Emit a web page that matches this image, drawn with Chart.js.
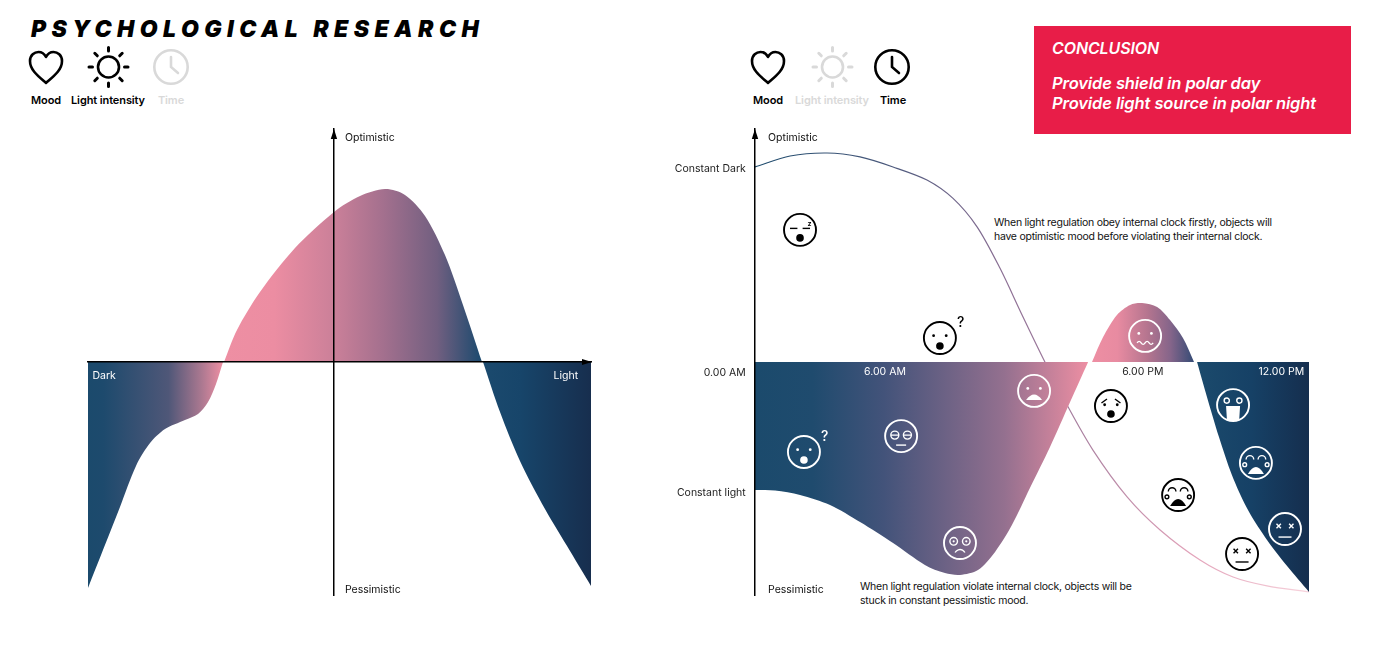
<!DOCTYPE html>
<html>
<head>
<meta charset="utf-8">
<title>Psychological research</title>
<script src="https://cdn.jsdelivr.net/npm/chart.js@4/dist/chart.umd.js"></script>
<style>
  html, body { margin: 0; background: #fff; }
  body { width: 1400px; height: 650px; position: relative; overflow: hidden; font-family: Inter, sans-serif; color: #000; }
  canvas { position: absolute; top: 110px; }
  #leftChart { left: 0; }
  #rightChart { left: 660px; }
  .txt { position: absolute; white-space: nowrap; }
  h1 { position: absolute; left: 31px; top: 15px; margin: 0; font-size: 23px; line-height: 28px; font-weight: 900; font-style: italic; letter-spacing: 5.45px; white-space: nowrap; }
  .icon { position: absolute; top: 45px; }
  .leg { top: 94px; font-size: 11px; line-height: 13px; font-weight: 600; transform: translateX(-50%); letter-spacing: -0.1px; }
  .off { color: #d9d9d9; }
  .note { font-size: 10.5px; line-height: 14px; letter-spacing: -0.26px; color: #111; }
  #box { position: absolute; left: 1034px; top: 26px; width: 317px; height: 108px; background: #e81d48; color: #fff; font-style: italic; font-weight: 600; }
  #box div { position: absolute; left: 18px; white-space: nowrap; font-size: 16px; line-height: 20px; letter-spacing: -0.1px; }
</style>
</head>
<body>
<h1>PSYCHOLOGICAL RESEARCH</h1>

<svg class="icon" style="left:24px" width="44" height="44" viewBox="0 0 44 44" fill="none" stroke="#000" stroke-width="2.6" stroke-linejoin="round"><path d="M22 38 C14 31 6 25 6 16 C6 10 10.500 7 14.500 7 C18 7 20.500 9 22 12 C23.500 9 26 7 29.500 7 C33.500 7 38 10 38 16 C38 25 30 31 22 38 Z"/></svg>
<svg class="icon" style="left:86px" width="44" height="44" viewBox="0 0 44 44" fill="none" stroke="#000" stroke-width="2.6" stroke-linecap="round"><circle cx="22.500" cy="22" r="10.500"/><path stroke-width="3" d="M22.500 2.500v3.500M22.500 38v3.500M3 22h3.500M38.500 22h3.500M8.800 8.300l2.500 2.500M33.700 33.200l2.500 2.500M36.200 8.300l-2.500 2.500M11.300 33.200l-2.500 2.500"/></svg>
<svg class="icon" style="left:149px" width="44" height="44" viewBox="0 0 44 44" fill="none" stroke="#d9d9d9" stroke-width="2.600" stroke-linecap="round"><circle cx="22" cy="22" r="16.700"/><path d="M22 12v10l7 6"/></svg>

<div class="txt leg" style="left:46px">Mood</div>
<div class="txt leg" style="left:108px">Light intensity</div>
<div class="txt leg off" style="left:171px">Time</div>

<svg class="icon" style="left:746px" width="44" height="44" viewBox="0 0 44 44" fill="none" stroke="#000" stroke-width="2.6" stroke-linejoin="round"><path d="M22 38 C14 31 6 25 6 16 C6 10 10.500 7 14.500 7 C18 7 20.500 9 22 12 C23.500 9 26 7 29.500 7 C33.500 7 38 10 38 16 C38 25 30 31 22 38 Z"/></svg>
<svg class="icon" style="left:810px" width="44" height="44" viewBox="0 0 44 44" fill="none" stroke="#d9d9d9" stroke-width="2.6" stroke-linecap="round"><circle cx="22.500" cy="22" r="10.500"/><path stroke-width="3" d="M22.500 2.500v3.500M22.500 38v3.500M3 22h3.500M38.500 22h3.500M8.800 8.300l2.500 2.500M33.700 33.200l2.500 2.500M36.200 8.300l-2.500 2.500M11.300 33.200l-2.500 2.500"/></svg>
<svg class="icon" style="left:870px" width="44" height="44" viewBox="0 0 44 44" fill="none" stroke="#000" stroke-width="2.600" stroke-linecap="round"><circle cx="22" cy="22" r="16.700"/><path d="M22 12v10l7 6"/></svg>

<div class="txt leg" style="left:768px">Mood</div>
<div class="txt leg off" style="left:832px">Light intensity</div>
<div class="txt leg" style="left:893px">Time</div>

<div id="box">
  <div style="top:12px;font-size:16px">CONCLUSION</div>
  <div style="top:47px;font-size:16.5px">Provide shield in polar day</div>
  <div style="top:67px;font-size:16.5px">Provide light source in polar night</div>
</div>

<div class="txt note" style="left:994px;top:216px">When light regulation obey internal clock firstly, objects will<br>have optimistic mood before violating their internal clock.</div>
<div class="txt note" style="left:860px;top:580px">When light regulation violate internal clock, objects will be<br>stuck in constant pessimistic mood.</div>

<canvas id="leftChart" width="680" height="510"></canvas>
<canvas id="rightChart" width="740" height="510"></canvas>

<script>
// Izquierda: mood against light intensity (0-100)
const darkLight = [0, 6.36, 9.54, 12.33, 15.31, 19.28, 21.87, 23.86, 25.45, 26.84];
const darkMood = [-97, -62.2, -44.6, -34.8, -28.8, -24.9, -22.3, -17.2, -9.4, 0];
const midLight = [27.04, 29.62, 34.19, 41.15, 48.91, 54.08, 59.05, 63.02, 67, 70.97, 74.55, 78.33];
const midMood = [0, 13.7, 30, 48.9, 64.4, 71.2, 74.2, 71.7, 62.7, 45.9, 24.5, 0];
const brightLight = [78.53, 81.91, 85.88, 90.85, 95.83, 100];
const brightMood = [0, -21.5, -42.5, -63.1, -81.1, -96.1];
const leftXTicks = [3.2, 95];
const leftXLabels = ["Dark", "Light"];

// Derecha: mood against time (0-24 h)
const lobeHours = [0, 0.87, 1.95, 3.25, 4.55, 5.98, 7.36, 8.23, 8.88, 9.66, 10.4, 11.13, 11.91, 12.78, 13.65, 14.43];
const lobeMood = [-54.9, -55.2, -57.1, -61.4, -68.7, -77.7, -87.1, -90.6, -91.4, -89.3, -81.5, -70, -54.1, -36.5, -17.2, 0];
const humpHours = [14.6, 15.08, 15.68, 16.25, 16.77, 17.42, 17.98, 18.54, 19.02];
const humpMood = [0, 10.7, 20.2, 24.5, 25.3, 23.6, 18, 10.3, 0];
const endHours = [19.15, 19.58, 20.1, 20.66, 21.31, 22.09, 23.05, 24];
const endMood = [0, -15, -32.2, -48.5, -62.7, -75.1, -87.6, -98.7];
const clockHours = [0, 1.52, 3.12, 4.55, 5.98, 7.45, 8.58, 9.62, 10.61, 11.57, 12.56, 13.52, 14.64, 16.12, 17.55, 19.28, 20.71, 22.18, 24];
const clockMood = [83.7, 88.4, 89.7, 88, 83.7, 78.1, 70.2, 58, 40.3, 20.2, 0, -18.5, -37.8, -57.9, -72.1, -85, -92.3, -96.1, -98.7];

const rightXTicks = [5.63, 16.8, 22.8];
const rightXLabels = ["6.00 AM", "6.00 PM", "12.00 PM"];
const rightYTicks = [82.7, -4.5, -56];
const rightYLabels = ["Constant Dark", "0.00 AM", "Constant light"];

const faceHours = [1.95, 8.01, 2.12, 6.33, 8.88, 12.09, 15.42, 16.9, 20.71, 21.7, 18.33, 22.96, 21.1];
const faceMood = [56.7, 10.3, -38.6, -31.8, -77.7, -12.4, -18.9, 11.2, -18.5, -43.3, -57.1, -71.7, -82.4];
const faceKinds = ["sleep", "shock", "shock", "lids", "stare", "frown", "worried", "wavy", "tongue", "cry", "cry", "dead", "dead"];
const faceInk = ["#000", "#000", "#fff", "#fff", "#fff", "#fff", "#000", "#fff", "#fff", "#fff", "#000", "#fff", "#000"];

// Colour along the horizontal axis
const leftStops = [[0, "#1b4a6c"], [3, "#1d4a6d"], [16, "#4f5778"], [22.7, "#ad7991"], [26.8, "#ee8fa3"], [37, "#ec8da2"], [48.9, "#cb8099"], [58.6, "#a4708e"], [69.4, "#715f80"], [78.3, "#1b4a6e"], [86, "#17456a"], [100, "#172e4e"]];
const rightStops = [[0, "#1b4a6c"], [2.5, "#1f4b6e"], [5.6, "#43537a"], [10.8, "#94708f"], [14.47, "#ee8fa3"], [15.7, "#e88ba1"], [17, "#b5758f"], [18, "#85658a"], [19.06, "#314a74"], [19.19, "#1b4a6c"], [21.5, "#164166"], [24, "#152e4e"]];
const lineStops = [[0, "#1b4a6c"], [6, "#4e5a7d"], [11, "#8e7095"], [14, "#a87f9f"], [19, "#e3a3ba"], [24, "#f7d3dc"]];

function toPoints(xs, ys) {
  return xs.map((x, i) => ({ x: x, y: ys[i] }));
}

function xGradient(stops) {
  return function (ctx) {
    const chart = ctx.chart;
    if (!chart.chartArea) return stops[0][1];
    const sx = chart.scales.x;
    const g = chart.ctx.createLinearGradient(sx.left, 0, sx.right, 0);
    stops.forEach(s => g.addColorStop((s[0] - sx.min) / (sx.max - sx.min), s[1]));
    return g;
  };
}

function areaSet(xs, ys, stops) {
  return {
    data: toPoints(xs, ys),
    fill: "origin",
    borderWidth: 0,
    pointRadius: 0,
    tension: 0.3,
    backgroundColor: xGradient(stops)
  };
}

function drawMouth(c, kind) {
  // coordinates relative to the face centre
  c.beginPath();
  if (kind === "sleep" || kind === "shock" || kind === "worried") {
    c.arc(0, 8, 3.8, 0, Math.PI * 2);
    c.fill();
  } else if (kind === "lids") {
    c.moveTo(-5, 9); c.lineTo(5, 9); c.stroke();
  } else if (kind === "stare") {
    c.arc(0, 12, 5.5, Math.PI * 1.15, Math.PI * 1.85); c.stroke();
  } else if (kind === "frown") {
    c.moveTo(-8, 9); c.quadraticCurveTo(0, -2, 8, 9); c.closePath(); c.fill();
  } else if (kind === "wavy") {
    c.moveTo(-8, 7);
    for (let i = 0; i < 4; i++) c.quadraticCurveTo(-6 + i * 4, i % 2 ? 10 : 4, -4 + i * 4, 7);
    c.stroke();
  } else if (kind === "tongue") {
    c.moveTo(-7, 1); c.lineTo(7, 1); c.lineTo(6, 17); c.lineTo(-6, 17); c.closePath(); c.fill();
  } else if (kind === "cry") {
    c.moveTo(-8, 11); c.quadraticCurveTo(0, -3, 8, 11); c.closePath(); c.fill();
  } else if (kind === "dead") {
    c.moveTo(-6.5, 8); c.lineTo(6.5, 8); c.stroke();
  }
}

function drawEyes(c, kind) {
  [-1, 1].forEach(side => {
    const ex = side * 6.3;
    c.beginPath();
    if (kind === "sleep") {
      c.moveTo(ex - 3.7, -1.5); c.lineTo(ex + 3.7, -1.5); c.stroke();
    } else if (kind === "shock") {
      c.arc(ex, -2.3, 1.4, 0, Math.PI * 2); c.fill();
    } else if (kind === "lids") {
      c.arc(ex, -1, 4, 0, Math.PI * 2);
      c.moveTo(ex - 4, -1); c.lineTo(ex + 4, -1); c.stroke();
    } else if (kind === "stare") {
      c.arc(ex, -1.7, 3.8, 0, Math.PI * 2); c.stroke();
      c.beginPath(); c.arc(ex, -1.7, 1.1, 0, Math.PI * 2); c.fill();
    } else if (kind === "frown" || kind === "wavy") {
      c.arc(ex, -2.5, 1.4, 0, Math.PI * 2); c.fill();
    } else if (kind === "worried") {
      c.arc(ex, -1.3, 1.4, 0, Math.PI * 2); c.fill();
      c.beginPath(); c.moveTo(side * 4, -7); c.lineTo(side * 9.5, -3); c.stroke();
    } else if (kind === "tongue") {
      c.arc(ex, -4.5, 2.6, 0, Math.PI * 2); c.stroke();
    } else if (kind === "cry") {
      c.arc(side * 6, -3.5, 3.8, Math.PI, 0); c.stroke();
      c.beginPath(); c.arc(side * 11.2, 1.8, 1.9, 0, Math.PI * 2); c.stroke();
    } else if (kind === "dead") {
      c.moveTo(ex - 2.2, -5.2); c.lineTo(ex + 2.2, -0.8);
      c.moveTo(ex + 2.2, -5.2); c.lineTo(ex - 2.2, -0.8); c.stroke();
    }
  });
}

const facesPlugin = {
  id: "faces",
  afterDatasetsDraw(chart) {
    const { ctx: c, scales } = chart;
    faceHours.forEach((h, i) => {
      const ink = faceInk[i];
      const kind = faceKinds[i];
      c.save();
      c.translate(scales.x.getPixelForValue(h), scales.y.getPixelForValue(faceMood[i]));
      c.strokeStyle = ink;
      c.fillStyle = ink;
      c.lineWidth = 1.9;
      c.beginPath();
      c.arc(0, 0, 16, 0, Math.PI * 2);
      c.stroke();
      c.lineWidth = 1.4;
      if (kind === "tongue") {
        c.save();
        c.beginPath();
        c.arc(0, 0, 16, 0, Math.PI * 2);
        c.clip();
        drawMouth(c, kind);
        c.restore();
      } else {
        drawMouth(c, kind);
      }
      drawEyes(c, kind);
      if (kind === "shock") {
        c.font = "500 14px Inter";
        c.textAlign = "left";
        c.fillText("?", 17, -11);
      }
      if (kind === "sleep") {
        c.font = "700 7px Inter";
        c.textAlign = "center";
        c.fillText("z", 9.5, -4);
      }
      c.restore();
    });
  }
};

// Axis arrows and the Optimistic / Pessimistic labels next to the mood axis
function axisExtras(axisValue, withRightArrow) {
  return {
    id: "axisExtras",
    afterDraw(chart) {
      const { ctx: c, scales: { x, y } } = chart;
      const ax = x.getPixelForValue(axisValue);
      c.save();
      c.fillStyle = "#000";
      c.beginPath();
      c.moveTo(ax, y.top);
      c.lineTo(ax + 3.2, y.top + 10);
      c.lineTo(ax - 3.2, y.top + 10);
      c.closePath();
      c.fill();
      if (withRightArrow) {
        const y0 = y.getPixelForValue(0);
        c.beginPath();
        c.moveTo(x.right + 1, y0);
        c.lineTo(x.right - 9, y0 - 3);
        c.lineTo(x.right - 9, y0 + 3);
        c.closePath();
        c.fill();
      }
      c.font = "10.5px Inter";
      c.textBaseline = "middle";
      c.textAlign = "left";
      c.fillStyle = "#111";
      c.fillText("Optimistic", ax + (withRightArrow ? 11 : 13), y.getPixelForValue(96.4));
      c.fillText("Pessimistic", ax + (withRightArrow ? 11 : 13), y.getPixelForValue(-98));
      c.restore();
    }
  };
}

function baseOptions(padding, scales) {
  return {
    responsive: false,
    animation: false,
    layout: { autoPadding: false, padding: padding },
    plugins: { legend: { display: false }, tooltip: { enabled: false } },
    scales: scales
  };
}

function labelTicks(values, labels, colors, pad) {
  return {
    afterBuildTicks: s => { s.ticks = values.map(v => ({ value: v })); },
    ticks: {
      z: 1,
      autoSkip: false,
      maxRotation: 0,
      padding: pad,
      font: { family: "Inter", size: 10.5 },
      color: ctx => colors[ctx.index],
      callback: (v, i) => labels[i]
    }
  };
}

new Chart(document.getElementById("leftChart"), {
  type: "line",
  data: {
    datasets: [
      areaSet(darkLight, darkMood, leftStops),
      areaSet(midLight, midMood, leftStops),
      areaSet(brightLight, brightMood, leftStops)
    ]
  },
  options: baseOptions({ left: 88, right: 89, top: 19, bottom: 25 }, {
    x: Object.assign({
      type: "linear", min: 0, max: 100, position: { y: 0 },
      grid: { display: false, drawTicks: false },
      border: { display: true, color: "#000", width: 1.5, z: 1 }
    }, labelTicks(leftXTicks, leftXLabels, ["#fff", "#fff"], 8)),
    y: {
      type: "linear", min: -100, max: 100, position: { x: 48.9 },
      grid: { display: false, drawTicks: false },
      border: { display: true, color: "#000", width: 1.5, z: 1 },
      ticks: { display: false }
    }
  }),
  plugins: [axisExtras(48.9, true)]
});

new Chart(document.getElementById("rightChart"), {
  type: "line",
  data: {
    datasets: [
      areaSet(lobeHours, lobeMood, rightStops),
      areaSet(humpHours, humpMood, rightStops),
      areaSet(endHours, endMood, rightStops),
      {
        data: toPoints(clockHours, clockMood),
        fill: false,
        pointRadius: 0,
        borderWidth: 1.2,
        tension: 0.3,
        borderColor: xGradient(lineStops)
      }
    ]
  },
  options: baseOptions({ left: 95, right: 91, top: 19, bottom: 25 }, {
    x: Object.assign({
      type: "linear", min: 0, max: 24, position: { y: 0 },
      grid: { display: false, drawTicks: false },
      border: { display: false }
    }, labelTicks(rightXTicks, rightXLabels, ["#fff", "#222", "#fff"], 4)),
    y: {
      type: "linear", min: -100, max: 100, position: { x: 0 },
      grid: { display: false, drawTicks: false },
      border: { display: true, color: "#000", width: 1.5, z: 1 },
      ticks: { display: false }
    },
    // second mood axis only carries the labels left of the line
    yLabels: Object.assign({
      axis: "y", type: "linear", min: -100, max: 100, position: { x: -0.4 },
      grid: { display: false, drawTicks: false },
      border: { display: false }
    }, labelTicks(rightYTicks, rightYLabels, ["#222", "#222", "#222"], 0))
  }),
  plugins: [facesPlugin, axisExtras(0, false)]
});
</script>
</body>
</html>
